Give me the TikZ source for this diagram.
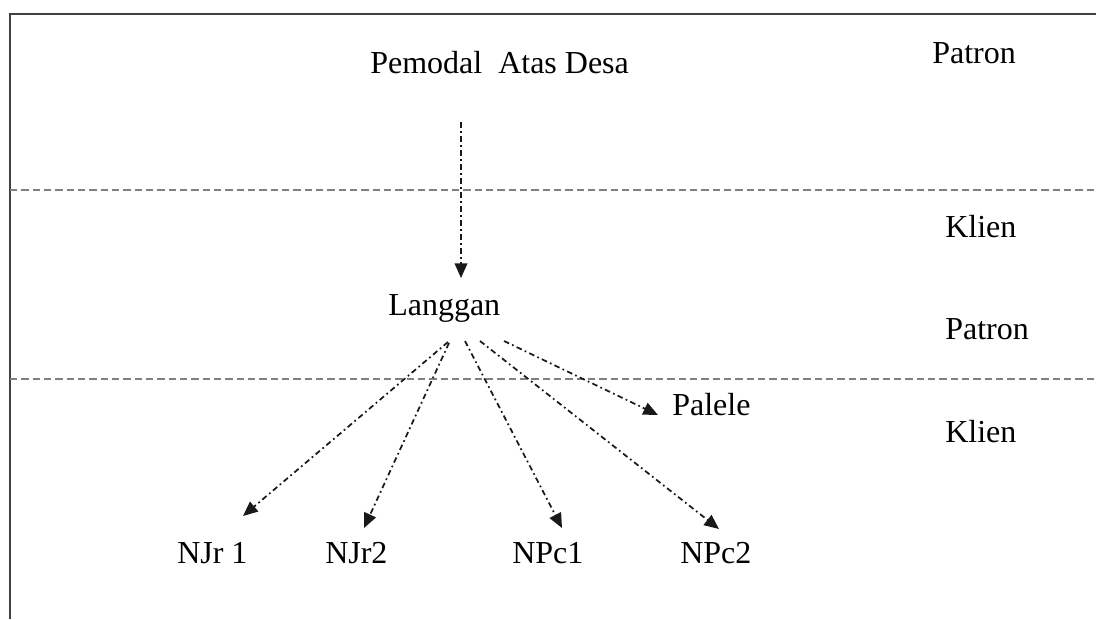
\documentclass[tikz,border=0pt]{standalone}
\usepackage{fontspec}
\setmainfont{Liberation Serif}
\usetikzlibrary{arrows.meta}
\begin{document}
\begin{tikzpicture}[x=0.75pt,y=-0.75pt,
  lbl/.style={anchor=base west,inner sep=0pt,font=\fontsize{24}{28}\selectfont},
  frameline/.style={draw=black!75,line width=2.2pt},
  sepline/.style={draw=black!50,line width=1.4pt,dash pattern=on 5.5pt off 3pt},
  flow/.style={draw=black!90,line width=1.3pt,dash pattern=on 4.2pt off 2.5pt on 1.3pt off 2.5pt,
    -{Triangle[length=11pt,width=9.5pt]}}]
\useasboundingbox (0,0) rectangle (1096,619);
% frame
\coordinate (fbl) at (10,619);
\coordinate (ftl) at (10,14);
\coordinate (ftr) at (1096,14);
\draw[frameline] (fbl) -- (ftl) -- (ftr);
% separators
\coordinate (s1a) at (10,190);
\coordinate (s1b) at (1096,190);
\coordinate (s2a) at (10,379);
\coordinate (s2b) at (1096,379);
\draw[sepline] (s1a) -- (s1b);
\draw[sepline] (s2a) -- (s2b);
% labels
\node[lbl] (pemodal) at (370,73) {Pemodal\ \ Atas Desa};
\node[lbl] (patron1) at (932,63) {Patron};
\node[lbl] (klien1) at (945,237) {Klien};
\node[lbl] (patron2) at (945,339) {Patron};
\node[lbl] (klien2) at (945,442) {Klien};
\node[lbl] (langgan) at (388,315) {Langgan};
\node[lbl] (palele) at (672,415) {Palele};
\node[lbl] (njr1) at (177,563) {NJr 1};
\node[lbl] (njr2) at (325,563) {NJr2};
\node[lbl] (npc1) at (512,563) {NPc1};
\node[lbl] (npc2) at (680,563) {NPc2};
% connector points
\coordinate (pm-out) at (461,122);
\coordinate (lg-in) at (461,278);
\coordinate (lg-o1) at (448,342);
\coordinate (lg-o2) at (449,343);
\coordinate (lg-o3) at (465,341);
\coordinate (lg-o4) at (480,341);
\coordinate (lg-o5) at (504,341);
\coordinate (njr1-in) at (243,516);
\coordinate (njr2-in) at (364,528);
\coordinate (npc1-in) at (562,528);
\coordinate (npc2-in) at (719,529);
\coordinate (pal-in) at (658,415);
% connectors
\draw[flow] (pm-out) -- (lg-in);
\draw[flow] (lg-o1) -- (njr1-in);
\draw[flow] (lg-o2) -- (njr2-in);
\draw[flow] (lg-o3) -- (npc1-in);
\draw[flow] (lg-o4) -- (npc2-in);
\draw[flow] (lg-o5) -- (pal-in);
\end{tikzpicture}
\end{document}
